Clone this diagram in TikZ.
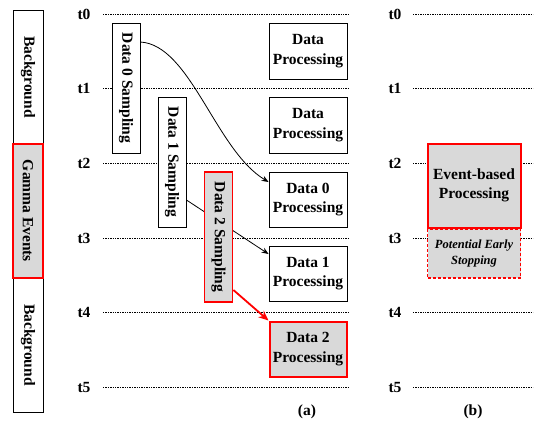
\documentclass[tikz,border=0pt]{standalone}
\usepackage{fontspec}
\setmainfont{Liberation Serif}
\usetikzlibrary{arrows.meta,backgrounds}
\definecolor{boxgray}{HTML}{D9D9D9}
\tikzset{
  txt/.style={font=\fontsize{15.5}{19.5}\selectfont\bfseries},
  plainbox/.style={draw=black,line width=0.9pt,fill=white,inner sep=0pt,align=center,txt},
  redbox/.style={draw=red,line width=2pt,fill=boxgray,inner sep=0pt,align=center,txt},
  dotline/.style={line width=0.9pt,dash pattern=on 1.3pt off 1.1pt},
  blackarrow/.style={line width=0.8pt,-{Stealth[length=7pt,width=5.5pt]}},
  redarrow/.style={draw=red,line width=1.8pt,-{Stealth[length=10pt,width=8.5pt]}},
}
\begin{document}
\begin{tikzpicture}[x=1pt,y=-1pt]
\useasboundingbox (0,0) rectangle (534,421);
% time labels and dotted lines
\foreach \i/\y in {0/14,1/88,2/163,3/238,4/312,5/387}{
  \node[txt] (ta\i) at (84,\y) {t\i};
  \node[txt] (tb\i) at (395,\y) {t\i};
  \draw[dotline] (103,\y) -- (350,\y);
  \draw[dotline] (413,\y) -- (533,\y);
}
% left bar
\node[plainbox,minimum width=30pt,minimum height=134pt] (bg1) at (28,77) {\rotatebox{-90}{Background}};
\node[plainbox,minimum width=30pt,minimum height=134pt] (bg2) at (28,345) {\rotatebox{-90}{Background}};
\node[redbox,line width=1.4pt,minimum width=30pt,minimum height=134pt] (gam) at (28,211) {\rotatebox{-90}{Gamma Events}};
% sampling boxes
\node[plainbox,minimum width=28pt,minimum height=130pt] (d0s) at (126,88) {\rotatebox{-90}{Data 0 Sampling}};
\node[plainbox,minimum width=28pt,minimum height=130pt] (d1s) at (172,162) {\rotatebox{-90}{Data 1 Sampling}};
% processing boxes
\node[plainbox,minimum width=78pt,minimum height=56pt] (dp1) at (308,51) {Data\\Processing};
\node[plainbox,minimum width=78pt,minimum height=56pt] (dp2) at (308,125) {Data\\Processing};
\node[plainbox,minimum width=78pt,minimum height=55pt] (d0p) at (308,199.5) {Data 0\\Processing};
\node[plainbox,minimum width=78pt,minimum height=55pt] (d1p) at (308,273.5) {Data 1\\Processing};
\node[redbox,minimum width=77pt,minimum height=55pt] (d2p) at (308,349) {Data 2\\Processing};
% data 1 arrow (behind data 2 sampling)
\draw[blackarrow] ([yshift=-38pt]d1s.east) -- ([yshift=19.5pt]d1p.west);
\node[redbox,line width=1.8pt,minimum width=28pt,minimum height=130pt] (d2s) at (218.5,237) {\rotatebox{-90}{Data 2 Sampling}};
% data 0 curve
\draw[blackarrow] ([yshift=46pt]d0s.east) .. controls +(50,3) and +(-53,-32) .. ([yshift=17.5pt]d0p.west);
% data 2 red arrow
\draw[redarrow] ([yshift=-53pt]d2s.east) -- (d2p.north west);
% panel b
\node[redbox,minimum width=93pt,minimum height=84pt] (ebp) at (474,185.5) {Event-based\\Processing};
\node[draw=red,line width=1.8pt,dash pattern=on 3pt off 2pt,fill=boxgray,inner sep=0pt,align=center,minimum width=93pt,minimum height=49pt,font=\fontsize{12.5}{16}\selectfont\bfseries\itshape] (pes) at (474,253.5) {Potential Early\\Stopping};
% labels
\node[txt] (la) at (307,412) {(a)};
\node[txt] (lb) at (473,412) {(b)};
\end{tikzpicture}
\end{document}
